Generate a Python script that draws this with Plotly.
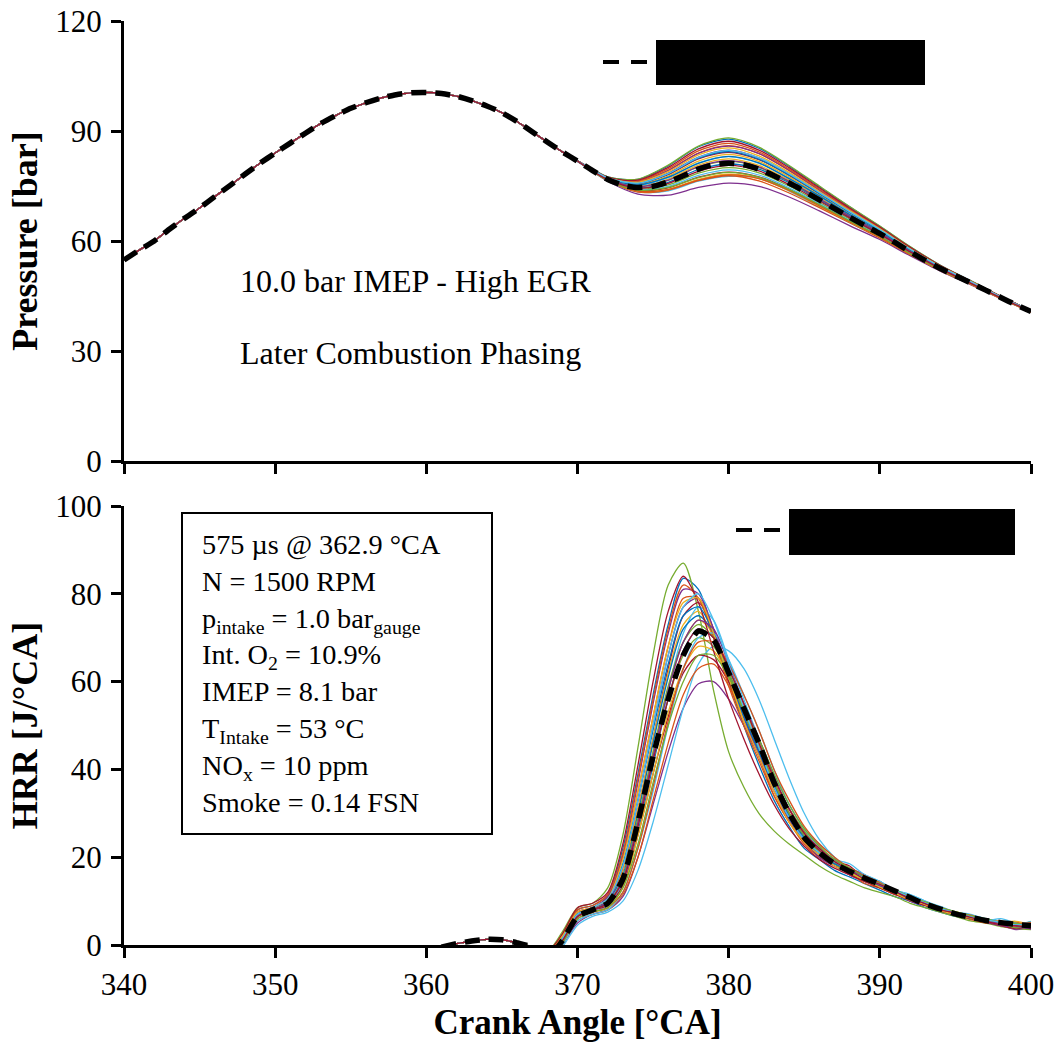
import plotly.graph_objects as go

# ---------------- data ----------------
CA_P = list(range(340, 401))
P_MEAN = [54.8, 57.5, 60.0, 63.2, 66.2, 69.0, 72.1, 75.1, 78.2, 81.2,
          84.0, 86.7, 89.4, 92.0, 94.2, 96.2, 97.7, 99.0, 99.9, 100.4,
          100.5, 100.2, 99.5, 98.3, 96.8, 95.0, 92.6, 89.8, 87.0, 84.3,
          81.8, 79.2, 76.8, 75.2, 74.6, 74.9, 76.1, 77.8, 79.6, 80.8,
          81.2, 80.8, 79.6, 77.8, 75.8, 73.6, 71.2, 68.8, 66.5, 64.2,
          62.0, 59.6, 57.1, 54.7, 52.5, 50.5, 48.6, 46.6, 44.6, 42.6, 40.8]

CA_P_CYC = [370, 372, 374, 376, 378, 380, 382, 384, 386, 388, 390, 392, 394, 396, 398, 400]
P_CYCLES = [
    [81.9, 77.5, 76.8, 80.5, 85.7, 87.8, 85.3, 80.4, 74.8, 69.3, 64.0, 58.4, 53.4, 49.2, 44.9, 41.0],
    [81.9, 77.3, 76.2, 79.3, 84.0, 86.0, 83.8, 79.2, 73.8, 68.5, 63.4, 58.1, 53.1, 49.0, 44.8, 41.0],
    [81.8, 76.9, 75.0, 76.9, 80.7, 82.4, 80.6, 76.6, 71.9, 67.0, 62.4, 57.3, 52.7, 48.7, 44.7, 40.8],
    [81.7, 76.3, 72.8, 72.5, 74.6, 75.8, 74.9, 72.0, 68.2, 64.2, 60.4, 56.0, 51.8, 48.1, 44.3, 40.6],
    [81.9, 77.5, 76.9, 80.7, 85.9, 88.1, 85.6, 80.6, 75.0, 69.4, 64.1, 58.5, 53.4, 49.2, 44.9, 41.0],
    [81.7, 76.4, 73.4, 73.7, 76.3, 77.6, 77.2, 73.6, 69.3, 65.0, 60.9, 56.4, 52.0, 48.3, 44.4, 40.7],
    [81.9, 77.1, 75.6, 78.1, 82.4, 84.2, 82.2, 77.9, 72.9, 67.8, 62.9, 57.7, 52.9, 48.9, 44.8, 40.9],
    [81.8, 76.8, 74.5, 76.0, 79.5, 81.0, 79.6, 75.9, 71.2, 66.5, 62.0, 57.1, 52.4, 48.6, 44.5, 40.7],
    [81.8, 76.5, 73.3, 73.9, 76.5, 77.8, 76.4, 73.1, 69.1, 65.0, 60.8, 56.3, 51.9, 48.2, 44.3, 40.6],
    [81.8, 77.0, 75.4, 77.7, 81.8, 83.6, 81.7, 77.5, 72.5, 67.5, 62.7, 57.6, 52.8, 48.8, 44.7, 40.9],
    [81.9, 77.3, 76.1, 79.2, 83.9, 85.9, 83.9, 79.3, 73.9, 68.6, 63.4, 58.1, 53.1, 49.0, 44.8, 41.0],
    [81.8, 76.7, 74.2, 75.3, 78.5, 80.0, 78.6, 75.0, 70.5, 66.0, 61.6, 56.9, 52.3, 48.5, 44.5, 40.8],
    [81.8, 77.0, 75.2, 77.3, 81.3, 83.0, 81.2, 77.1, 72.2, 67.3, 62.5, 57.5, 52.7, 48.8, 44.7, 40.9],
    [81.8, 76.6, 73.8, 74.5, 77.4, 78.8, 77.5, 74.1, 69.9, 65.5, 61.3, 56.6, 52.2, 48.4, 44.5, 40.7],
    [81.8, 77.0, 75.3, 77.4, 81.2, 83.1, 81.3, 77.0, 72.3, 67.2, 62.6, 57.4, 52.8, 48.7, 44.6, 40.9],
    [81.9, 77.3, 76.4, 79.7, 84.6, 86.6, 84.3, 79.6, 74.2, 68.8, 63.6, 58.2, 53.2, 49.1, 44.9, 41.0],
    [81.8, 76.5, 73.6, 74.1, 76.8, 78.2, 77.0, 73.7, 69.5, 65.2, 61.1, 56.5, 52.1, 48.3, 44.4, 40.7],
    [81.9, 77.2, 75.8, 78.5, 82.9, 84.8, 82.7, 78.3, 73.2, 68.0, 63.1, 57.8, 53.0, 48.9, 44.8, 40.9],
    [81.8, 76.9, 74.8, 76.5, 80.2, 81.8, 80.1, 76.2, 71.5, 66.8, 62.2, 57.2, 52.6, 48.6, 44.6, 40.8],
    [81.8, 76.6, 74.0, 74.9, 77.9, 79.4, 78.0, 74.5, 70.2, 65.7, 61.5, 56.7, 52.3, 48.4, 44.5, 40.7],
    [81.9, 77.4, 76.6, 80.1, 85.1, 87.2, 84.8, 80.0, 74.5, 69.0, 63.8, 58.3, 53.3, 49.1, 44.9, 41.0],
    [81.9, 77.1, 75.7, 78.3, 82.6, 84.4, 82.3, 78.0, 72.9, 67.8, 62.9, 57.7, 52.9, 48.9, 44.8, 40.9],
    [81.8, 76.5, 73.6, 74.0, 76.6, 78.0, 77.0, 73.8, 69.6, 65.3, 61.1, 56.5, 52.1, 48.3, 44.4, 40.7],
    [81.9, 77.2, 76.0, 78.9, 83.5, 85.4, 83.2, 78.7, 73.5, 68.3, 63.3, 57.9, 53.1, 49.0, 44.8, 40.9],
    [81.8, 76.9, 74.8, 76.6, 80.3, 81.9, 80.2, 76.3, 71.5, 66.8, 62.2, 57.2, 52.6, 48.7, 44.6, 40.8],
    [81.8, 76.6, 73.9, 74.6, 77.3, 78.7, 77.4, 74.1, 69.9, 65.5, 61.3, 56.6, 52.2, 48.4, 44.5, 40.7],
    [81.9, 77.2, 75.8, 78.4, 82.8, 84.7, 82.7, 78.3, 73.2, 68.0, 63.1, 57.8, 53.0, 48.9, 44.8, 40.9],
    [81.8, 76.7, 74.4, 75.7, 79.0, 80.6, 79.1, 75.4, 70.9, 66.3, 61.8, 57.0, 52.4, 48.5, 44.5, 40.8],
]

CA_H_BUMP = [361, 362, 363, 364, 365, 366, 367]
H_BUMP = [-0.5, 0.3, 0.9, 1.3, 1.2, 0.5, -0.5]

CA_H = list(range(368, 401))
H_MEAN = [-3, 1, 6.5, 8, 9.5, 15, 28, 43, 56, 66, 71.5, 69.5, 62, 54, 46, 37, 30, 24.5,
          21, 18.5, 16.8, 15.2, 13.8, 12.3, 10.8, 9.3, 8.2, 7.1, 6.3, 5.6, 5.1, 4.7, 4.4]

H_CYCLES = [
    [-2, 2.5, 8, 9, 11.5, 22, 39, 57, 73, 83.5, 81, 71, 60, 50, 41, 33, 27, 22, 19.5, 17, 15.5, 14, 12.5, 11, 10, 8.5, 7.5, 6.5, 6, 5.2, 4.8, 4.2, 4.5],
    [-2.5, 2, 7.5, 8.5, 11, 20, 35, 52, 68, 79, 79, 70, 60, 51, 43, 34, 28, 23, 20, 18.5, 16, 14.5, 13, 11.5, 10.5, 9.5, 8, 7, 6.2, 5.5, 4.6, 5.2, 4],
    [-3, 1, 6.5, 8, 9.5, 15, 28, 44, 58, 69, 74, 71, 63, 54, 46, 37, 30, 24, 21.5, 18, 17, 15.5, 13.5, 12.5, 10.5, 9, 8.5, 7, 6.8, 5.4, 5.5, 4.5, 5],
    [-4, 0, 5, 7, 8, 11, 20, 32, 44, 54, 59.5, 60, 56, 50, 43, 36, 30, 25, 22, 19.5, 17.5, 16, 14, 12.5, 11, 9.5, 8.5, 7.5, 6.5, 5.5, 4.5, 3.5, 4],
    [-1.5, 3, 8.5, 9.5, 13, 25, 45, 66, 82, 87, 76, 58, 44, 36, 30, 26, 23, 20.5, 18, 16, 14.5, 13, 12, 11, 9.5, 8.5, 7.5, 6.5, 5.5, 5, 4.2, 3.8, 3.5],
    [-4.5, -0.5, 4.5, 6.5, 7.5, 10, 17, 28, 41, 54, 64, 68, 67, 63, 56, 47, 38, 30, 24, 20, 17.5, 15.5, 14, 12.5, 11, 9.5, 8.5, 7.5, 6.5, 5.5, 6, 5, 4.5],
    [-2.5, 1.5, 7, 8.5, 10, 17, 31, 47, 63, 75, 78, 72, 62, 53, 44, 36, 29, 24, 21, 19, 18, 15, 13.5, 12, 10, 9.5, 8, 7.5, 6, 5.8, 4.8, 4.5, 3.8],
    [-3, 1, 6.5, 8, 9, 14, 26, 41, 56, 67, 72, 70, 63, 55, 47, 38, 31, 25.5, 21, 18, 16.5, 15.5, 14, 12, 11, 9, 8.5, 7, 6.5, 6, 5, 4.8, 4.6],
    [-4, 0, 5.5, 7, 8, 11.5, 20, 33, 46, 57, 63, 64, 59, 52, 45, 37, 31, 26, 22.5, 19, 16, 14.5, 13.5, 12, 10.5, 9, 8, 7.5, 6, 5, 5.4, 4.2, 4.8],
    [-2.5, 1.5, 7, 8.5, 10, 17, 31, 47, 62, 73, 76, 70, 61, 52, 45, 37, 30, 25, 21, 19, 17, 15, 14.5, 12, 11, 9.5, 8, 7.2, 6.5, 5.5, 5, 4.2, 4.4],
    [-2, 2, 7.5, 8.5, 11, 20.5, 37, 55, 71, 81, 80, 72, 62, 52, 43, 35, 28.5, 24, 21, 19, 16, 14.5, 13.5, 12, 10, 9, 8.2, 6.8, 6, 5.5, 4.4, 4.6, 3.6],
    [-3, 1, 6.5, 8, 9.5, 15, 27, 42, 56, 66, 70, 68, 62, 54, 46, 38, 31, 26, 22, 19.5, 17, 15.5, 13, 12.5, 11, 9, 8.5, 7, 6, 5.8, 4.8, 4.4, 5.4],
    [-3.5, 0.5, 6, 7.5, 9, 14, 27, 42, 58, 71, 77, 74, 65, 56, 47, 39, 32, 26.5, 23, 20, 17, 16, 14.5, 12.5, 11.5, 10, 8.5, 7.5, 7, 6, 5.2, 4.6, 5],
    [-3, 1, 6.5, 8, 9, 13.5, 25, 39, 52, 62, 66, 65, 60, 53, 45, 37, 30, 25, 21.5, 18.5, 17.5, 15, 13.5, 12, 10.5, 9.5, 8, 7, 6.2, 5.2, 4.4, 3.8, 4.2],
    [-2.5, 1.5, 7, 8, 10, 16, 30, 46, 61, 72, 75, 71, 62, 53, 45, 36.5, 29.5, 24.5, 21, 18.5, 16.8, 15, 13.8, 12.2, 10.8, 9.4, 8.2, 7.2, 6.4, 5.6, 5, 4.9, 4.1],
    [-2, 2.5, 8, 9, 11.5, 21, 38, 56, 72, 82, 79, 70, 59, 50, 42, 34, 28, 23.5, 20, 18, 16.5, 14, 13, 11.5, 10.5, 9, 8, 7, 5.8, 5.4, 4.8, 4.2, 4.3],
    [-3.5, 0.5, 6, 7.5, 8.5, 13, 25, 39, 53, 63, 68, 67, 61, 54, 46, 38, 31, 25.5, 22, 19.5, 17, 15, 14, 12, 11.2, 9.5, 8.4, 7.6, 6.6, 5.8, 5.2, 5.4, 4.6],
    [-2.5, 1.5, 7, 8.5, 10, 18, 33, 50, 66, 77, 79, 72, 62, 52, 44, 36, 29, 24, 20, 18, 17, 15.5, 13.2, 11.8, 10.4, 9.1, 8.3, 7.2, 6.2, 5.2, 4.5, 4.1, 3.9],
    [-3, 1, 6.5, 8, 9.5, 15.5, 29, 44, 59, 69, 73, 70, 62, 53, 45, 37, 30, 25, 21, 18.5, 16.5, 14.8, 13.5, 12.1, 10.6, 9.2, 8.1, 7.1, 6.3, 5.6, 5.1, 3.9, 4.8],
    [-4, 0, 5.5, 7, 8, 12, 22, 35, 50, 63, 70, 71, 65, 57, 49, 40, 32, 26.5, 22, 19.5, 18.5, 16, 14.5, 12.5, 11.5, 10, 8.8, 7.5, 6.6, 5.9, 5.1, 4.7, 5.3],
    [-1.5, 2.5, 8.5, 9.5, 12, 23, 41, 60, 76, 84, 78, 67, 56, 47, 39, 32, 26.5, 22.5, 19.5, 17.5, 16, 14.5, 13, 11.5, 10.2, 9, 7.8, 6.9, 6.1, 5.3, 4.8, 4.3, 4],
    [-2.5, 1.5, 7, 8.5, 10.5, 18.5, 33, 49, 64, 75, 77, 71, 61, 52, 44, 36, 29, 24, 20.5, 18.5, 17, 15, 13.5, 12, 10.8, 9.3, 8.1, 7.3, 6.1, 5.7, 4.9, 4.4, 4.2],
    [-3.5, 0.5, 6, 7.5, 8.5, 12, 22, 36, 51, 63, 69, 69, 64, 57, 49, 40, 33, 27, 23, 20, 17.5, 15.8, 14.2, 12.4, 11.1, 9.7, 8.6, 7.4, 6.8, 5.7, 5.3, 4.9, 5.1],
    [-2, 2, 7.5, 8.5, 10.5, 19.5, 35, 52, 68, 78, 79, 71, 61, 51, 43, 35, 28, 23.5, 20.5, 18, 16.5, 14.8, 13.2, 11.8, 10.2, 9.2, 7.9, 6.9, 6.2, 5.4, 4.7, 4.3, 4.5],
    [-3, 1, 6.5, 8, 9.5, 15, 28, 43, 58, 69, 74, 72, 64, 55, 47, 38.5, 31, 25.5, 22, 19.5, 17.2, 15.6, 13.6, 12.4, 10.9, 9.4, 8.4, 7.3, 6.4, 5.4, 4.9, 4.3, 3.8],
    [-3.5, 0.5, 6, 7.5, 8.5, 13, 23, 37, 50, 60, 66, 66, 61, 54, 47, 39, 32, 26.5, 22.5, 19.5, 17.5, 15.5, 14, 12.6, 11, 9.8, 8.6, 7.6, 6.7, 6, 5.1, 4.9, 4.3],
    [-2.5, 1.5, 7, 8.5, 10.5, 18, 33, 50, 66, 77, 80, 74, 64, 54, 45, 36, 29, 24, 21, 19, 16.8, 15.2, 13.8, 12.4, 10.9, 9.6, 8.3, 7.4, 6.4, 5.8, 5.1, 4.6, 4.8],
    [-3, 1, 6.5, 8, 9.5, 14.5, 27, 42, 56, 67, 72, 70, 63, 55, 46, 38, 31, 25.5, 22, 19, 17, 15, 13.8, 12.2, 10.6, 9.4, 8, 7.3, 6.3, 5.4, 4.6, 4.4, 3.9],
]

COLORS = ["#0072BD", "#D95319", "#EDB120", "#7E2F8E", "#77AC30", "#4DBEEE", "#A2142F"]

X_TICKS = [340, 350, 360, 370, 380, 390, 400]
P_TICKS = [0, 30, 60, 90, 120]
H_TICKS = [0, 20, 40, 60, 80, 100]

INFO_LINES = [
    "575 µs @ 362.9 °CA",
    "N = 1500 RPM",
    "p<sub>intake</sub> = 1.0 bar<sub>gauge</sub>",
    "Int. O<sub>2</sub> = 10.9%",
    "IMEP = 8.1 bar",
    "T<sub>Intake</sub> = 53 °C",
    "NO<sub>x</sub> = 10 ppm",
    "Smoke = 0.14 FSN",
]

# ---------------- figure ----------------
W, H = 1059, 1047
ML, MR, MT, MB = 124, 28, 21, 102
PW, PH = W - ML - MR, H - MT - MB


def px(x):
    return (x - ML) / PW


def py(y):
    return (H - MB - y) / PH


FONT = "Liberation Serif, Times New Roman, serif"
fig = go.Figure()

n_pre = CA_P.index(370)
for i, cyc in enumerate(P_CYCLES):
    fig.add_trace(go.Scatter(
        x=CA_P[:n_pre] + CA_P_CYC, y=P_MEAN[:n_pre] + cyc,
        mode="lines", line=dict(color=COLORS[i % 7], width=1.3, shape="spline", smoothing=0.8),
        xaxis="x", yaxis="y", showlegend=False, hoverinfo="skip"))
fig.add_trace(go.Scatter(
    x=CA_P, y=P_MEAN, mode="lines",
    line=dict(color="black", width=5.5, dash="15px,9px", shape="spline", smoothing=0.6),
    xaxis="x", yaxis="y", showlegend=False))

for i, cyc in enumerate(H_CYCLES):
    fig.add_trace(go.Scatter(
        x=CA_H_BUMP + CA_H, y=H_BUMP + cyc,
        mode="lines", line=dict(color=COLORS[i % 7], width=1.3, shape="spline", smoothing=0.8),
        xaxis="x2", yaxis="y2", showlegend=False, hoverinfo="skip"))
fig.add_trace(go.Scatter(
    x=CA_H_BUMP + CA_H, y=H_BUMP + H_MEAN, mode="lines",
    line=dict(color="black", width=5.5, dash="15px,9px", shape="spline", smoothing=0.6),
    xaxis="x2", yaxis="y2", showlegend=False))

axis_common = dict(showline=True, linecolor="black", linewidth=3, ticks="outside",
                   ticklen=10, tickwidth=3, tickcolor="black", showgrid=False,
                   zeroline=False, automargin=False,
                   tickfont=dict(family=FONT, size=31, color="black"))

top_lo = py(461)
bot_hi = py(506)

fig.update_layout(
    width=W, height=H, margin=dict(l=ML, r=MR, t=MT, b=MB, autoexpand=False),
    paper_bgcolor="white", plot_bgcolor="white",
    font=dict(family=FONT, color="black"),
    xaxis=dict(domain=[0, 1], anchor="y", range=[340, 400], tickvals=X_TICKS,
               showticklabels=False, **axis_common),
    yaxis=dict(domain=[top_lo, 1], anchor="x", range=[0, 120], tickvals=P_TICKS,
               ticklabelstandoff=3,
               title=dict(text="<b>Pressure [bar]</b>", font=dict(family=FONT, size=36), standoff=7),
               **axis_common),
    xaxis2=dict(domain=[0, 1], anchor="y2", range=[340, 400], tickvals=X_TICKS,
                title=dict(text="<b>Crank Angle [°CA]</b>", font=dict(family=FONT, size=35), standoff=9),
                **axis_common),
    yaxis2=dict(domain=[0, bot_hi], anchor="x2", range=[0, 100], tickvals=H_TICKS,
                ticklabelstandoff=3,
                title=dict(text="<b>HRR [J/°CA]</b>", font=dict(family=FONT, size=36), standoff=7),
                **axis_common),
)

shapes = []
# legend samples (dashed mean line + redacted label box)
shapes.append(dict(type="line", xref="paper", yref="paper", x0=px(603), x1=px(619), y0=py(62), y1=py(62),
                   line=dict(color="black", width=4)))
shapes.append(dict(type="line", xref="paper", yref="paper", x0=px(631), x1=px(647), y0=py(62), y1=py(62),
                   line=dict(color="black", width=4)))
shapes.append(dict(type="rect", xref="paper", yref="paper", x0=px(656), x1=px(925), y0=py(85), y1=py(40),
                   fillcolor="black", line=dict(width=0)))
shapes.append(dict(type="line", xref="paper", yref="paper", x0=px(736), x1=px(752), y0=py(530), y1=py(530),
                   line=dict(color="black", width=4)))
shapes.append(dict(type="line", xref="paper", yref="paper", x0=px(764), x1=px(780), y0=py(530), y1=py(530),
                   line=dict(color="black", width=4)))
shapes.append(dict(type="rect", xref="paper", yref="paper", x0=px(789), x1=px(1015), y0=py(555), y1=py(509),
                   fillcolor="black", line=dict(width=0)))
# info box
shapes.append(dict(type="rect", xref="paper", yref="paper", x0=px(182), x1=px(492), y0=py(834), y1=py(513),
                   fillcolor="rgba(0,0,0,0)", line=dict(color="black", width=2)))
fig.update_layout(shapes=shapes)

annotations = [
    dict(text="10.0 bar IMEP - High EGR", x=px(238), y=py(281), xref="paper", yref="paper",
         xanchor="left", yanchor="middle", showarrow=False, font=dict(family=FONT, size=32)),
    dict(text="Later Combustion Phasing", x=px(238), y=py(353), xref="paper", yref="paper",
         xanchor="left", yanchor="middle", showarrow=False, font=dict(family=FONT, size=32)),
    dict(text="<br>".join(INFO_LINES), x=px(200), y=py(527), xref="paper", yref="paper",
         xanchor="left", yanchor="top", align="left", showarrow=False,
         font=dict(family=FONT, size=28.3)),
]
fig.update_layout(annotations=annotations)

fig.write_html("out.html")
